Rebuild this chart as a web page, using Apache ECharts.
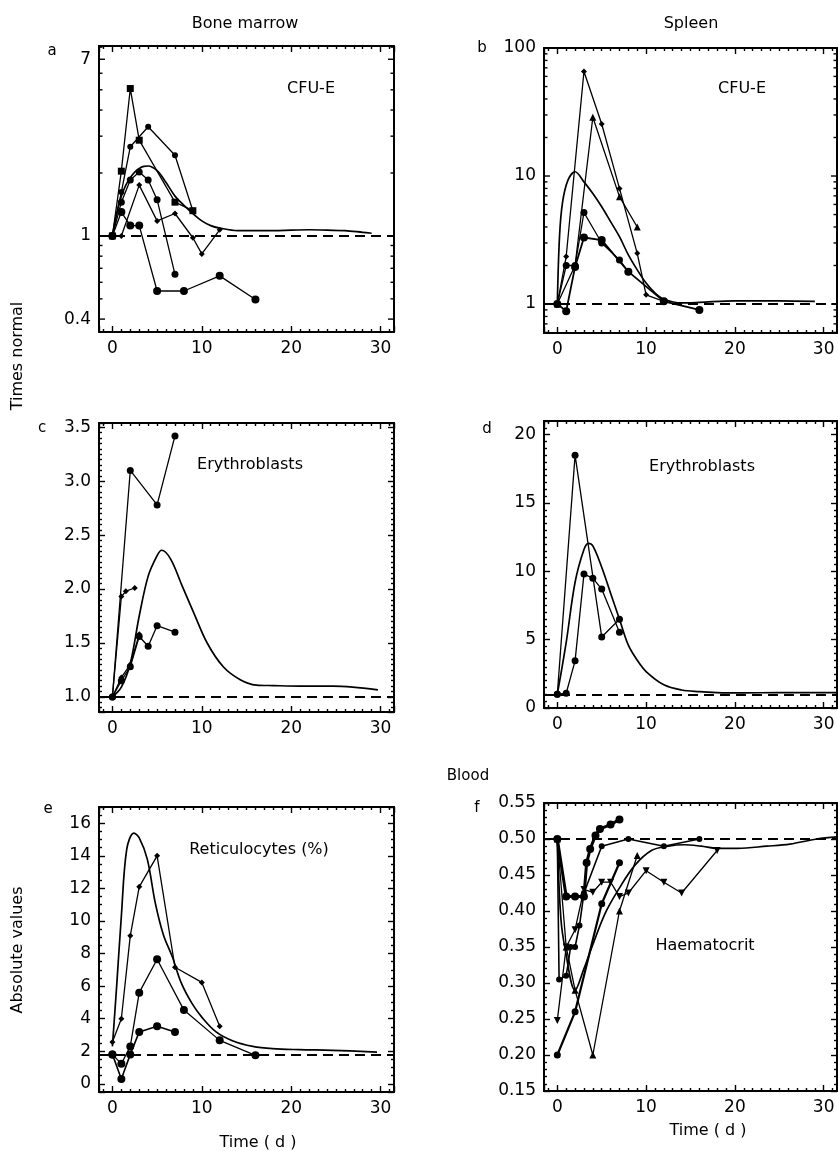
<!DOCTYPE html>
<html><head><meta charset="utf-8">
<script src="https://cdn.jsdelivr.net/npm/echarts@6/dist/echarts.min.js"></script>
<style>html,body{margin:0;padding:0;background:#fff}#c{width:838px;height:1151px}</style>
</head><body><div id="c"></div>
<script>
// ---------------- DATA ----------------
const X_MIN = -1.5, X_MAX = 31.5;

// a: Bone marrow CFU-E (times normal, log)
const aS1 = [[0,1],[1,2.04],[2,5.07],[3,2.87],[7,1.45],[9,1.32]];
const aS2 = [[0,1],[1,1.62],[2,2.67],[4,3.33],[7,2.43],[9,1.32]];
const aS3 = [[0,1],[1,1.45],[2,1.85],[3,2.02],[4,1.85],[5,1.49],[7,0.655]];
const aS4 = [[0,1],[1,1.30],[2,1.12],[3,1.12],[5,0.545],[8,0.545],[12,0.644],[16,0.496]];
const aS5 = [[0,1],[1,1],[3,1.75],[5,1.18],[7,1.28],[9,0.98],[10,0.82],[12,1.07]];
const aModel = [[0,1],[0.5,1.3],[1,1.55],[1.5,1.75],[2,1.9],[2.5,2.02],[3,2.1],[3.5,2.15],[4,2.16],[5,2.05],[6,1.8],[7,1.55],[8,1.4],[9,1.28],[10,1.18],[11,1.12],[12,1.09],[14,1.06],[16,1.06],[18,1.06],[20,1.065],[22,1.07],[24,1.065],[26,1.06],[28,1.04],[29,1.03]];
const aLabelVals = [0.4, 1, 7];
const aLabelText = ['0.4', '1', '7'];
const aMinorVals = [0.5,0.6,0.7,0.8,0.9,2,3,4,5,6,8];

// b: Spleen CFU-E (times normal, log)
const bStar = [[0,1],[1,2.35],[3,65.5],[5,25.5],[7,8.0],[9,2.49],[10,1.18],[12,1.05]];
const bTri = [[0,1],[2,2.0],[4,28.8],[7,6.9],[9,4.0]];
const bC1 = [[0,1],[1,2.0],[2,2.0],[3,5.19],[5,3.0],[7,2.21],[8,1.79]];
const bC2 = [[0,1],[1,0.88],[2,1.95],[3,3.31],[5,3.16],[8,1.79],[12,1.05],[16,0.9]];
const bModel = [[0,1],[0.25,3.4],[0.6,6.3],[1.2,9.3],[2,10.8],[3,9.0],[4,7.3],[5,5.75],[6,4.4],[7,3.36],[8,2.42],[9,1.85],[10,1.46],[11,1.22],[12,1.09],[14,1.02],[16,1.03],[20,1.06],[25,1.06],[29,1.05]];
const bLabelVals = [1, 10, 100];
const bLabelText = ['1', '10', '100'];
const bMinorVals = [0.6,0.7,0.8,0.9,2,3,4,5,6,7,8,9,20,30,40,50,60,70,80,90];

// c: Bone marrow erythroblasts
const cS1 = [[0,1],[2,3.1],[5,2.78],[7,3.42]];
const cS2 = [[0,1],[1,1.93],[1.5,1.98],[2.5,2.01]];
const cS3 = [[0,1],[1,1.15],[2,1.28],[3,1.56],[4,1.47],[5,1.66],[7,1.6]];
const cS4 = [[0,1],[1,1.18],[2,1.3],[3,1.58]];
const cModel = [[0,1],[1,1.09],[2,1.31],[3,1.75],[4,2.12],[5,2.31],[5.5,2.36],[6.5,2.28],[7.8,2.03],[9.1,1.78],[10.6,1.5],[12.4,1.28],[14.3,1.16],[16.1,1.11],[18,1.105],[21,1.1],[24.7,1.1],[26.9,1.09],[29.7,1.065]];

// d: Spleen erythroblasts
const dS1 = [[0,1],[2,18.5],[5,5.2],[7,6.5]];
const dS2 = [[0,1],[1,1.08],[2,3.45],[3,9.8],[4,9.5],[5,8.7],[7,5.55]];
const dModel = [[0,1],[1,4.8],[2,9.2],[3,11.6],[3.5,12.05],[4,11.86],[5,10.3],[6,8.4],[7,6.5],[8,4.6],[9,3.5],[10,2.67],[12,1.7],[14,1.32],[16,1.2],[18,1.13],[20,1.1],[25,1.13],[31.5,1.13]];

// e: Reticulocytes (%)
const eS1 = [[0,2.57],[1,4.0],[2,9.1],[3,12.1],[5,14.0],[7,7.16],[10,6.23],[12,3.54]];
const eS2 = [[0,1.81],[1,1.23],[2,2.3],[3,5.6],[5,7.65],[8,4.53],[12,2.67],[16,1.75]];
const eS3 = [[0,1.81],[1,0.3],[2,1.81],[3,3.19],[5,3.54],[7,3.19]];
const eModel = [[0,2.3],[0.5,6.2],[1,10.3],[1.6,14.4],[2.4,15.4],[3,15.1],[3.9,13.8],[4.8,11.1],[5.7,9.16],[6.7,7.8],[7.7,6.2],[8.9,4.94],[10,4.1],[11.6,3.19],[13.5,2.63],[15.7,2.3],[17.9,2.16],[20.9,2.1],[24.6,2.06],[29.6,1.95]];
const eNormal = 1.81;

// f: Haematocrit
const fA = [[0,0.5],[1,0.42],[2,0.42],[3,0.42],[3.3,0.467],[3.7,0.486],[4.3,0.505],[4.8,0.514],[6,0.52],[7,0.527]];
const fB = [[0,0.5],[0.2,0.305],[1,0.31],[1.5,0.35],[2,0.35],[2.5,0.38],[3,0.425],[5,0.49],[8,0.5],[12,0.49],[16,0.5]];
const fC = [[0,0.5],[1,0.35],[2,0.29],[4,0.2],[7,0.4],[9,0.477]];
const fD = [[0,0.2],[2,0.26],[5,0.41],[7,0.467]];
const fE = [[0,0.248],[1,0.35],[2,0.374],[3,0.43],[4,0.426],[5,0.44],[6,0.44],[7,0.42],[8,0.425],[10,0.456],[12,0.44],[14,0.425],[18,0.484]];
const fModel = [[0,0.5],[0.4,0.39],[0.9,0.346],[2,0.29],[3,0.32],[3.9,0.35],[5.4,0.397],[6.9,0.43],[8.7,0.463],[10.6,0.484],[12.5,0.49],[14.3,0.492],[16.2,0.49],[18,0.487],[20.3,0.487],[23.6,0.49],[26.2,0.493],[29.2,0.5],[31.5,0.503]];

// ---------------- LAYOUT / STYLE ----------------
const FONT = 'DejaVu Sans';
const LBL = 17;
const grids = [
  {left:99, top:46, width:295, height:286},
  {left:544, top:48, width:293, height:285},
  {left:99, top:423, width:295, height:289},
  {left:544, top:421, width:293, height:287},
  {left:99, top:807, width:295, height:285},
  {left:544, top:803, width:293, height:288}
];
const yCfg = [
  {log:true, min:0.347, max:8.1},
  {log:true, min:0.594, max:100},
  {min:0.86, max:3.54, split:5, minor:10, fmt:v=>v.toFixed(1), showMin:false, showMax:false},
  {min:0, max:21, split:4, minor:10, fmt:v=>String(v), showMin:true, showMax:false},
  {min:-0.5, max:17, split:8, minor:4, fmt:v=>String(v), showMin:false, showMax:false},
  {min:0.15, max:0.55, split:8, minor:5, fmt:v=>v.toFixed(2), showMin:true, showMax:true}
];
const axLine = {onZero:false, lineStyle:{color:'#000', width:2}};
const tickStyle = {color:'#000', width:1.4};

const xAxes = [], yAxes = [];
grids.forEach((g, i) => {
  ['bottom','top'].forEach(pos => {
    xAxes.push({
      gridIndex:i, type:'value', min:X_MIN, max:X_MAX, splitNumber:3, position:pos,
      axisLine:axLine,
      axisTick:{show:true, inside:true, length:6, lineStyle:tickStyle},
      minorTick:{show:true, splitNumber:10, length:3, lineStyle:tickStyle},
      splitLine:{show:false}, minorSplitLine:{show:false},
      axisLabel:{show:pos==='bottom', color:'#000', fontFamily:FONT, fontSize:LBL, margin:8,
                 showMinLabel:false, showMaxLabel:false}
    });
  });
  const c = yCfg[i];
  ['left','right'].forEach(pos => {
    if (c.log) {
      yAxes.push({
        gridIndex:i, type:'log', logBase:10, min:c.min, max:c.max, position:pos,
        axisLine:axLine, axisTick:{show:false}, minorTick:{show:false},
        splitLine:{show:false}, axisLabel:{show:false}
      });
    } else {
      yAxes.push({
        gridIndex:i, type:'value', min:c.min, max:c.max, splitNumber:c.split, position:pos,
        axisLine:axLine,
        axisTick:{show:true, inside:true, length:6, lineStyle:tickStyle},
        minorTick:{show:true, splitNumber:c.minor, length:3, lineStyle:tickStyle},
        splitLine:{show:false}, minorSplitLine:{show:false},
        axisLabel:{show:pos==='left', color:'#000', fontFamily:FONT, fontSize:LBL, margin:8,
                   showMinLabel:c.showMin, showMaxLabel:c.showMax, formatter:c.fmt}
      });
    }
  });
});

function dataSeries(gi, data, symbol, size, opts) {
  opts = opts || {};
  return Object.assign({
    type:'line', xAxisIndex:gi*2, yAxisIndex:gi*2, data:data,
    symbol:symbol, symbolSize:size, showSymbol:true,
    lineStyle:{color:'#000', width:opts.width || 1.3},
    itemStyle:{color:'#000'}, z:3
  }, opts.extra || {});
}
function modelSeries(gi, data, normal) {
  return {
    type:'line', xAxisIndex:gi*2, yAxisIndex:gi*2, data:data, smooth:0.35,
    symbol:'none', lineStyle:{color:'#000', width:1.7}, z:2,
    markLine:{silent:true, symbol:'none', label:{show:false},
      lineStyle:{color:'#000', width:2.2, type:[10,6]},
      data:[{yAxis:normal}]}
  };
}
function logTicks(gi, labelVals, labelText, minorVals) {
  const all = labelVals.concat(minorVals);
  return {
    type:'custom', xAxisIndex:gi*2, yAxisIndex:gi*2, silent:true, z:6,
    data: all.map(v => [0, v]),
    renderItem(params, api) {
      const cs = params.coordSys;
      const v = api.value(1);
      const y = api.coord([0, v])[1];
      const k = labelVals.indexOf(v);
      const len = k >= 0 ? 6 : 3.5;
      const ch = [
        {type:'line', shape:{x1:cs.x, y1:y, x2:cs.x+len, y2:y}, style:{stroke:'#000', lineWidth:1.4}},
        {type:'line', shape:{x1:cs.x+cs.width, y1:y, x2:cs.x+cs.width-len, y2:y}, style:{stroke:'#000', lineWidth:1.4}}
      ];
      if (k >= 0) ch.push({type:'text', style:{text:labelText[k], x:cs.x-8, y:y,
        align:'right', verticalAlign:'middle', font:LBL+'px "DejaVu Sans"', fill:'#000'}});
      return {type:'group', children:ch};
    }
  };
}

const series = [
  // a
  modelSeries(0, aModel, 1),
  dataSeries(0, aS1, 'rect', 7),
  dataSeries(0, aS2, 'circle', 6),
  dataSeries(0, aS3, 'circle', 7),
  dataSeries(0, aS4, 'circle', 8),
  dataSeries(0, aS5, 'diamond', 6),
  logTicks(0, aLabelVals, aLabelText, aMinorVals),
  // b
  modelSeries(1, bModel, 1),
  dataSeries(1, bStar, 'diamond', 6),
  dataSeries(1, bTri, 'triangle', 7),
  dataSeries(1, bC1, 'circle', 7),
  dataSeries(1, bC2, 'circle', 8, {width:1.8}),
  logTicks(1, bLabelVals, bLabelText, bMinorVals),
  // c
  modelSeries(2, cModel, 1),
  dataSeries(2, cS1, 'circle', 7),
  dataSeries(2, cS2, 'diamond', 6),
  dataSeries(2, cS3, 'circle', 7),
  dataSeries(2, cS4, 'diamond', 6),
  // d
  modelSeries(3, dModel, 1),
  dataSeries(3, dS1, 'circle', 7),
  dataSeries(3, dS2, 'circle', 7),
  // e
  modelSeries(4, eModel, eNormal),
  dataSeries(4, eS1, 'diamond', 6),
  dataSeries(4, eS2, 'circle', 8),
  dataSeries(4, eS3, 'circle', 8, {width:1.6}),
  // f
  modelSeries(5, fModel, 0.5),
  dataSeries(5, fA, 'circle', 8, {width:3}),
  dataSeries(5, fB, 'circle', 6, {width:1.6}),
  dataSeries(5, fC, 'triangle', 7),
  dataSeries(5, fD, 'circle', 7, {width:2.2}),
  dataSeries(5, fE, 'triangle', 7, {extra:{symbolRotate:180}})
];

function txt(text, x, y, size, extra) {
  return Object.assign({type:'text', x:x, y:y, silent:true,
    style:{text:text, font:(size||16)+'px "DejaVu Sans"', fill:'#000', align:'center', verticalAlign:'middle'}}, extra || {});
}
const graphics = [
  txt('Bone marrow', 245, 24, 16),
  txt('Spleen', 691, 24, 16),
  txt('Blood', 468, 776, 15),
  txt('a', 52, 51, 15), txt('b', 482, 48, 15), txt('c', 42, 428, 15),
  txt('d', 487, 429, 15), txt('e', 48, 809, 15), txt('f', 477, 808, 15),
  txt('Times normal', 18, 356, 16, {rotation:Math.PI/2}),
  txt('Absolute values', 18, 950, 16, {rotation:Math.PI/2}),
  txt('Time ( d )', 258, 1143, 16),
  txt('Time ( d )', 708, 1131, 16),
  txt('CFU-E', 311, 89, 16),
  txt('CFU-E', 742, 89, 16),
  txt('Erythroblasts', 250, 465, 16),
  txt('Erythroblasts', 702, 467, 16),
  txt('Reticulocytes (%)', 259, 850, 16),
  txt('Haematocrit', 705, 946, 16)
];

const chart = echarts.init(document.getElementById('c'), null, {renderer:'canvas'});
chart.setOption({
  backgroundColor:'#fff',
  animation:false,
  textStyle:{fontFamily:FONT, color:'#000'},
  grid: grids.map(g => Object.assign({containLabel:false, outerBoundsMode:'none'}, g)),
  xAxis: xAxes,
  yAxis: yAxes,
  series: series,
  graphic: graphics
});
</script></body></html>
